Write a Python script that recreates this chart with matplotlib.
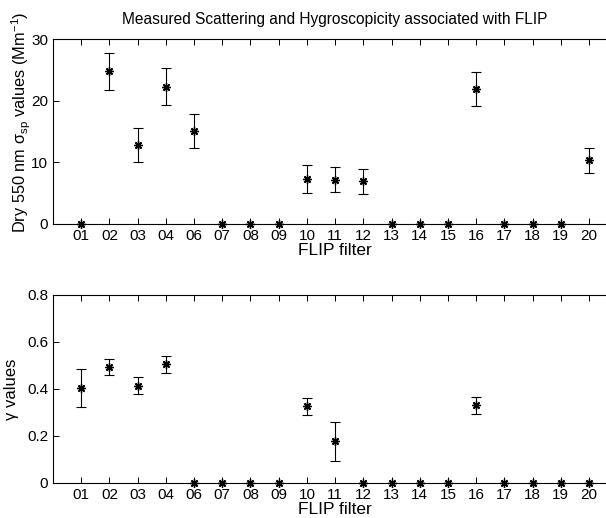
import numpy as np
from matplotlib import pyplot as plt

plt.rcParams['font.family'] = ['Liberation Sans', 'DejaVu Sans']
plt.rcParams['mathtext.fontset'] = 'custom'
plt.rcParams['mathtext.rm'] = 'Liberation Sans'

# FLIP filter ids (no 05)
filters = ["01", "02", "03", "04", "06", "07", "08", "09", "10", "11",
           "12", "13", "14", "15", "16", "17", "18", "19", "20"]

# dry 550 nm scattering (Mm^-1) and its error
scattering = [0, 24.8, 12.8, 22.3, 15.1, 0, 0, 0, 7.3, 7.2,
              6.9, 0, 0, 0, 21.9, 0, 0, 0, 10.3]
scattering_err = [0, 3.0, 2.8, 3.0, 2.7, 0, 0, 0, 2.2, 2.0,
                  2.1, 0, 0, 0, 2.8, 0, 0, 0, 2.1]

# hygroscopicity gamma and its error
gamma = [0.405, 0.492, 0.414, 0.505, 0, 0, 0, 0, 0.327, 0.177,
         0, 0, 0, 0, 0.33, 0, 0, 0, 0]
gamma_err = [0.08, 0.034, 0.035, 0.037, 0, 0, 0, 0, 0.036, 0.083,
             0, 0, 0, 0, 0.037, 0, 0, 0, 0]

x = np.arange(1, len(filters) + 1)

fig = plt.figure(figsize=(6.06, 5.18), dpi=100)
ax1 = fig.add_axes([0.0875, 0.5676, 0.931, 0.357])
ax2 = fig.add_axes([0.0875, 0.0676, 0.931, 0.363])


def draw(ax, y, err):
    ax.errorbar(x, y, yerr=err, fmt="none", ecolor="black", elinewidth=0.8,
                capsize=3.5, capthick=0.8)
    ax.plot(x, y, linestyle="none", marker=(8, 2, 0), color="black",
            markersize=6, markeredgewidth=1.0, clip_on=False, zorder=3)
    ax.set_xlim(0, 20)
    ax.set_xticks(x)
    ax.set_xticklabels(filters)
    ax.tick_params(direction="in", top=True, right=True, length=4,
                   width=0.7, labelsize=11)
    for s in ax.spines.values():
        s.set_linewidth(0.8)
    ax.set_xlabel("FLIP filter", fontsize=12.5, labelpad=0)


draw(ax1, scattering, scattering_err)
ax1.set_ylim(0, 30)
ax1.set_yticks([0, 10, 20, 30])
ax1.set_ylabel(r"Dry 550 nm σ$_{\rm sp}$ values (Mm$^{-1}$)", fontsize=11.8)
ax1.yaxis.set_label_coords(-0.036, 0.55)
ax1.set_title("Measured Scattering and Hygroscopicity associated with FLIP",
              fontsize=11.2, pad=11)

draw(ax2, gamma, gamma_err)
ax2.set_ylim(0, 0.8)
ax2.set_yticks([0, 0.2, 0.4, 0.6, 0.8])
ax2.set_yticklabels(["0", "0.2", "0.4", "0.6", "0.8"])
ax2.set_ylabel("γ values", fontsize=12)
ax2.yaxis.set_label_coords(-0.06, 0.5)

fig.savefig("out.png", dpi=100)
